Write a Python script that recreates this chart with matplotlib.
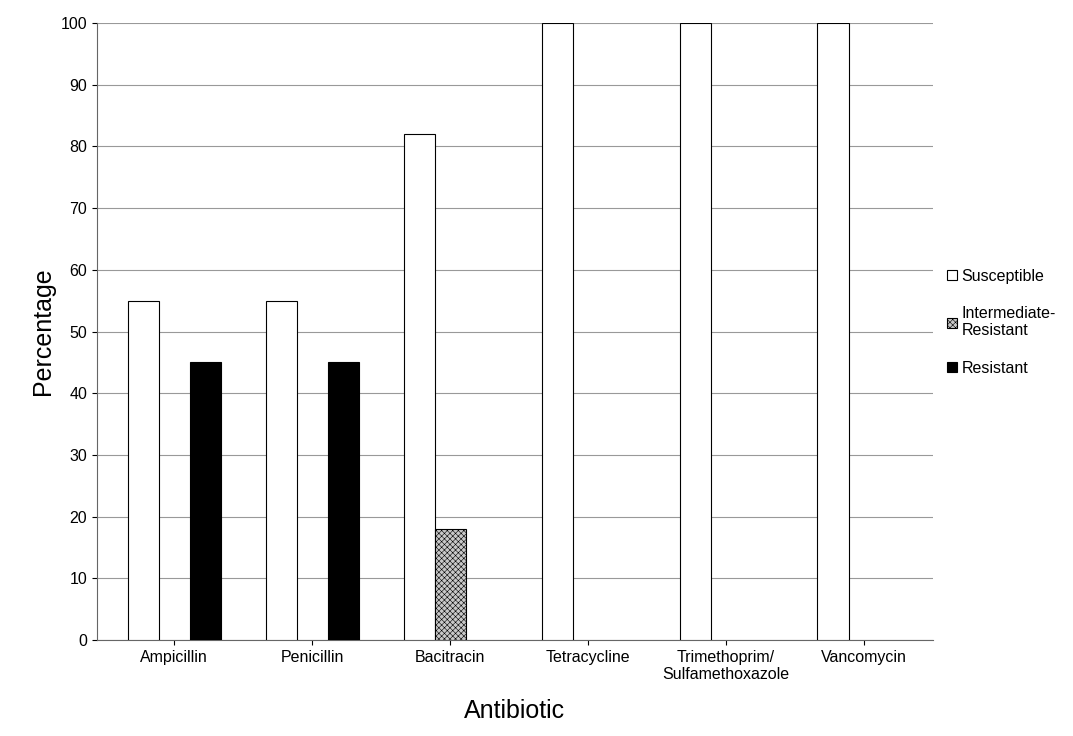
import matplotlib
matplotlib.use("Agg")
import matplotlib.pyplot as plt
import numpy as np

antibiotics = ["Ampicillin", "Penicillin", "Bacitracin", "Tetracycline",
               "Trimethoprim/\nSulfamethoxazole", "Vancomycin"]
susceptible = [55, 55, 82, 100, 100, 100]
intermediate = [0, 0, 18, 0, 0, 0]
resistant = [45, 45, 0, 0, 0, 0]

plt.rcParams["font.family"] = ["Liberation Sans", "DejaVu Sans"]
plt.rcParams["hatch.linewidth"] = 0.4

fig = plt.figure(figsize=(10.73, 7.36), dpi=100)
ax = fig.add_axes([97 / 1073, 96 / 736, 836 / 1073, 617 / 736])


def lw(vals):
    # hide outlines of empty bars
    return [0.8 if v else 0 for v in vals]


x = np.arange(len(antibiotics))
w = 0.225
ax.bar(x - w, susceptible, w, facecolor="white", edgecolor="black",
       linewidth=lw(susceptible), label="Susceptible", zorder=3)
ax.bar(x, intermediate, w, facecolor="#c8c8c8", edgecolor="black",
       linewidth=lw(intermediate), hatch="xxxxxx",
       label="Intermediate-\nResistant", zorder=3)
ax.bar(x + w, resistant, w, facecolor="black", edgecolor="black",
       linewidth=lw(resistant), label="Resistant", zorder=3)

ax.set_xlim(-0.56, 5.5)
ax.set_ylim(0, 100)
ax.set_yticks(range(0, 101, 10))
ax.set_xticks(x)
ax.set_xticklabels(antibiotics, fontsize=11.5)
ax.tick_params(axis="y", labelsize=11.5)
ax.yaxis.grid(True, color="#999999", linewidth=0.8, zorder=0)
for side in ["top", "right"]:
    ax.spines[side].set_visible(False)
ax.spines["left"].set_color("#666666")
ax.spines["bottom"].set_color("#666666")
ax.set_xlabel("Antibiotic", fontsize=18, labelpad=12)
ax.set_ylabel("Percentage", fontsize=18)

leg = ax.legend(loc="center left", bbox_to_anchor=(1.0, 0.515), frameon=False,
                fontsize=11.5, handlelength=0.6, handleheight=0.6,
                handletextpad=0.3, labelspacing=1.4)
for h in leg.legend_handles:
    h.set_linewidth(0.8)

fig.savefig("out.png", dpi=100)
